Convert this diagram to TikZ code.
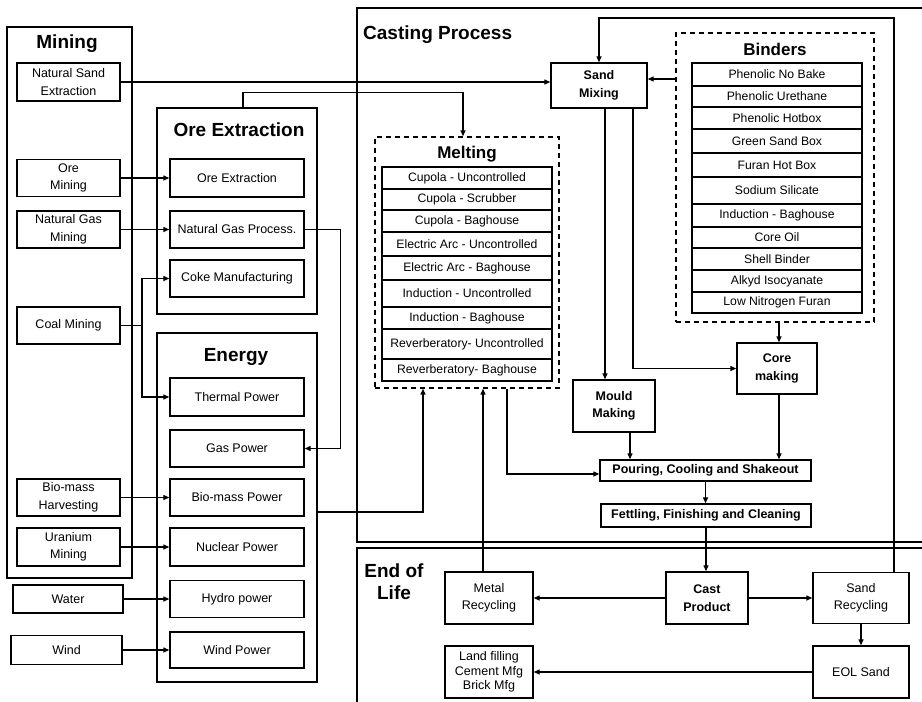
\documentclass[tikz,border=0pt]{standalone}
\usepackage{fontspec}
\setmainfont{Liberation Sans}
\usetikzlibrary{arrows.meta}

\tikzset{
  sz/.style 2 args={minimum width=#1pt, minimum height=#2pt},
  box/.style={draw, line width=1.4pt, align=center, inner sep=1pt, font=\fontsize{12.5}{17.5}\selectfont},
  bbox/.style={box, font=\bfseries\fontsize{12.5}{17.5}\selectfont},
  item/.style={draw, line width=1.3pt, minimum width=170pt, inner sep=0pt, font=\fontsize{12.2}{14}\selectfont},
  frame/.style={draw, line width=2.6pt, inner sep=0pt},
  dframe/.style={draw, dash pattern=on 5pt off 4pt, line width=1.4pt, inner sep=0pt},
  title/.style={font=\bfseries\fontsize{19}{22}\selectfont, inner sep=0pt},
  stitle/.style={font=\bfseries\fontsize{17}{20}\selectfont, inner sep=0pt},
  arr/.style={line width=1.3pt, -{Triangle[length=6pt,width=5pt]}},
  link/.style={line width=1.3pt},
}

\begin{document}
\begin{tikzpicture}[x=1pt, y=-1pt]
  \useasboundingbox (0,0) rectangle (922,702);

  % frames
  \node[frame, sz={125}{551}] (mining) at (69.5,302.5) {};
  \node[frame, sz={160}{206}] (oregrp) at (237,211) {};
  \node[frame, sz={160}{349}] (energy) at (237,507.5) {};
  \node[frame, sz={573}{534}] (casting) at (643.5,275) {};
  \node[frame, sz={573}{162}] (eolgrp) at (643.5,629) {};
  \node[dframe, sz={184}{251}] (melt) at (467,262.5) {};
  \node[dframe, sz={198}{289}] (binders) at (775,177.5) {};

  % titles
  \node[title] (tmining) at (67,44) {Mining};
  \node[title] (tore) at (239,130) {Ore Extraction};
  \node[title] (tenergy) at (236,357) {Energy};
  \node[title, anchor=west] (tcasting) at (363,35) {Casting Process};
  \node[title, align=center] (teol) at (394,582) {End of\\Life};
  \node[stitle] (tmelt) at (467,154) {Melting};
  \node[stitle] (tbind) at (775,49) {Binders};

  % mining
  \node[box, sz={103}{38}] (nse) at (68.5,82) {Natural Sand\\Extraction};
  \node[box, sz={103}{37}] (orem) at (68.5,178) {Ore\\Mining};
  \node[box, sz={103}{37}] (ngm) at (68.5,229.5) {Natural Gas\\Mining};
  \node[box, sz={103}{37}] (coal) at (68.5,325.5) {Coal Mining};
  \node[box, sz={103}{37}] (bio) at (68.5,497.5) {Bio-mass\\Harvesting};
  \node[box, sz={103}{38}] (uran) at (68.5,547) {Uranium\\Mining};
  \node[box, sz={110}{28}] (water) at (68,599) {Water};
  \node[box, sz={111}{29}] (wind) at (66.5,650) {Wind};

  % ore extraction
  \node[box, sz={134}{38}] (oreext) at (237,178) {Ore Extraction};
  \node[box, sz={134}{37}] (ngp) at (237,229.5) {Natural Gas Process.};
  \node[box, sz={134}{37}] (coke) at (237,278.5) {Coke Manufacturing};

  % energy
  \node[box, sz={134}{38}] (thermal) at (237,397) {Thermal Power};
  \node[box, sz={134}{37}] (gaspow) at (237,448.5) {Gas Power};
  \node[box, sz={134}{37}] (biopow) at (237,497.5) {Bio-mass Power};
  \node[box, sz={134}{38}] (nuclear) at (237,547) {Nuclear Power};
  \node[box, sz={134}{37}] (hydro) at (237,599) {Hydro power};
  \node[box, sz={134}{36}] (windpow) at (237,650) {Wind Power};

  % melting
  \foreach \ya/\yb/\t [count=\i] in {167/189/Cupola - Uncontrolled, 189/210/Cupola - Scrubber,
      210/232/Cupola - Baghouse, 232/256/Electric Arc - Uncontrolled, 256/280/Electric Arc - Baghouse,
      280/307/Induction - Uncontrolled, 307/329/Induction - Baghouse,
      329/359/Reverberatory- Uncontrolled, 359/381/Reverberatory- Baghouse} {
    \node[item, minimum height={\yb pt-\ya pt}] (m\i) at (467,{(\ya+\yb)/2}) {\t};
  }

  % binders
  \foreach \ya/\yb/\t [count=\i] in {63/86/Phenolic No Bake, 86/107/Phenolic Urethane,
      107/129/Phenolic Hotbox, 129/153/Green Sand Box, 153/177/Furan Hot Box,
      177/204/Sodium Silicate, 204/227/Induction - Baghouse, 227/248/Core Oil,
      248/270/Shell Binder, 270/292/Alkyd Isocyanate, 292/313/Low Nitrogen Furan} {
    \node[item, minimum height={\yb pt-\ya pt}] (b\i) at (777,{(\ya+\yb)/2}) {\t};
  }

  % casting process
  \node[bbox, sz={96}{45}] (smix) at (599,85.5) {Sand\\Mixing};
  \node[bbox, sz={82}{52}] (mould) at (614,406) {Mould\\Making};
  \node[bbox, sz={80}{51}] (core) at (777,368.5) {Core\\making};
  \node[bbox, sz={211}{21}] (pour) at (705.5,470.5) {Pouring, Cooling and Shakeout};
  \node[bbox, sz={210}{23}] (fett) at (706,515.5) {Fettling, Finishing and Cleaning};

  % end of life
  \node[bbox, sz={82}{52}] (cast) at (707,598) {Cast\\Product};
  \node[box, sz={88}{52}] (mrec) at (489,598) {Metal\\Recycling};
  \node[box, sz={96}{51}] (srec) at (861,598) {Sand\\Recycling};
  \node[box, sz={96}{52}] (eol) at (861,672) {EOL Sand};
  \node[box, sz={88}{52}] (land) at (489,672)
    {Land filling\\[-3pt]Cement Mfg\\[-3pt]Brick Mfg};

  % arrows from mining
  \draw[arr] (orem.east) -- (oreext.west);
  \draw[arr] (ngm.east) -- (ngp.west);
  \draw[arr] (bio.east) -- (biopow.west);
  \draw[arr] (uran.east) -- (nuclear.west);
  \draw[arr] (water.east) -- (hydro.west);
  \draw[arr] (wind.east) -- (windpow.west);
  \coordinate (coalj) at (142,325.5);
  \draw[link] (coal.east) -- (coalj);
  \draw[arr] (coalj) |- (coke.west);
  \draw[arr] (coalj) |- (thermal.west);
  \draw[arr] (ngp.east) -- ++(36,0) |- (gaspow.east);
  \draw[arr] (nse.east) -- (nse.east -| smix.west);
  \draw[arr] ([xshift=6pt]oregrp.north) -- ++(0,-14) -| ([xshift=-4pt]melt.north);
  \draw[arr] ([yshift=-4.5pt]energy.east) -| ([xshift=-44pt]melt.south);

  % casting arrows
  \draw[arr] ([yshift=6.5pt]smix.east -| binders.west) -- ([yshift=6.5pt]smix.east);
  \draw[arr] ([xshift=6pt]smix.south) -- ([xshift=6pt]smix.south |- mould.north);
  \draw[arr] ([xshift=34pt]smix.south) |- (core.west);
  \draw[arr] ([xshift=4pt]binders.south) -- ([xshift=4pt]binders.south |- core.north);
  \draw[arr] ([xshift=16pt]mould.south) -- ([xshift=16pt]mould.south |- pour.north);
  \draw[arr] ([xshift=2pt]core.south) -- ([xshift=2pt]core.south |- pour.north);
  \draw[arr] ([xshift=40pt]melt.south) |- ([yshift=-3.5pt]pour.west);
  \draw[arr] (pour.south) -- (pour.south |- fett.north);
  \draw[arr] (fett.south) -- (fett.south |- cast.north);

  % end of life arrows
  \draw[arr] (cast.west) -- (mrec.east);
  \draw[arr] (cast.east) -- (srec.west);
  \draw[arr] (srec.south) -- (eol.north);
  \draw[arr] (eol.west) -- (land.east);
  \draw[arr] ([xshift=-6pt]mrec.north) -- ([xshift=-6pt]mrec.north |- melt.south);
  \coordinate (toprail) at (0,18);
  \draw[arr] ([xshift=33pt]srec.north) -- ([xshift=33pt]srec.north |- toprail) -| (smix.north);
\end{tikzpicture}
\end{document}
